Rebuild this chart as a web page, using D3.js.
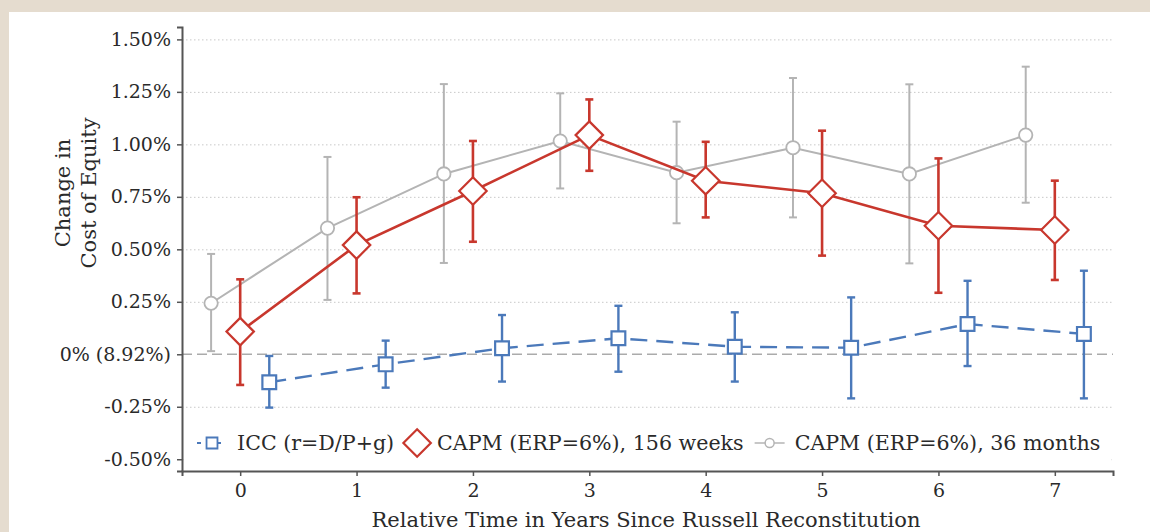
<!DOCTYPE html>
<html>
<head>
<meta charset="utf-8">
<script src="https://cdn.jsdelivr.net/npm/d3@7"></script>
<style>
    body { margin: 0; background: #e5dccf; }
    #wrapper { position: absolute; left: 9px; top: 12px; width: 1141px; height: 520px; background: #fff; }
    text { font-family: "DejaVu Serif", "Liberation Serif", serif; fill: #2a2a2a; }
    .grid line { stroke: #c8c8c8; stroke-dasharray: 1.5, 2.5; }
</style>
</head>
<body>
<div id="wrapper"></div>
<script>
// data (values in percent)
const years = [0, 1, 2, 3, 4, 5, 6, 7];
const yTicks = [-0.5, -0.25, 0, 0.25, 0.5, 0.75, 1, 1.25, 1.5];
const yTickLabels = ['-0.50%', '-0.25%', '0% (8.92%)', '0.25%', '0.50%', '0.75%', '1.00%', '1.25%', '1.50%'];

const icc = [-0.133, -0.048, 0.029, 0.076, 0.036, 0.031, 0.144, 0.097];
const iccLo = [-0.254, -0.159, -0.130, -0.083, -0.130, -0.210, -0.056, -0.210];
const iccHi = [-0.008, 0.065, 0.187, 0.231, 0.200, 0.271, 0.350, 0.398];

const capmWeeks = [0.108, 0.520, 0.778, 1.044, 0.827, 0.767, 0.612, 0.592];
const capmWeeksLo = [-0.146, 0.290, 0.536, 0.874, 0.652, 0.470, 0.293, 0.354];
const capmWeeksHi = [0.357, 0.748, 1.016, 1.214, 1.012, 1.065, 0.933, 0.827];

const capmMonths = [0.243, 0.601, 0.859, 1.016, 0.865, 0.984, 0.859, 1.044];
const capmMonthsLo = [0.015, 0.259, 0.435, 0.790, 0.624, 0.652, 0.433, 0.722];
const capmMonthsHi = [0.478, 0.940, 1.287, 1.243, 1.108, 1.316, 1.286, 1.370];

const legendLabels = ['ICC (r=D/P+g)', 'CAPM (ERP=6%), 156 weeks', 'CAPM (ERP=6%), 36 months'];

// series: offset along x, colours, marker
const series = [
    { name: 'months', offset: -0.25, vals: capmMonths, lo: capmMonthsLo, hi: capmMonthsHi, color: '#b4b4b4', width: 2, dash: null, marker: 'circle' },
    { name: 'weeks', offset: 0, vals: capmWeeks, lo: capmWeeksLo, hi: capmWeeksHi, color: '#c8372d', width: 2.6, dash: null, marker: 'diamond' },
    { name: 'icc', offset: 0.25, vals: icc, lo: iccLo, hi: iccHi, color: '#4b79ba', width: 2.4, dash: '17,9', marker: 'square' }
];

function drawChart() {
    //set dimension and properties (svg is offset by the white panel)
    let dimensions = {
        width: 1141,
        height: 520,
        ox: 9,
        oy: 12
    };
    const px = v => v - dimensions.ox;
    const py = v => v - dimensions.oy;

    const wrapper = d3.select('#wrapper');
    let svg = wrapper.append('svg')
        .attr('width', dimensions.width)
        .attr('height', dimensions.height);

    //scales
    let xScale = d3.scaleLinear()
        .domain([-0.5, 7.5])
        .range([px(182), px(1113)]);

    let yScale = d3.scaleLinear()
        .domain([-0.556, 1.559])
        .range([py(471), py(27)]);

    //grid
    let gridGen = d3.axisLeft(yScale)
        .tickValues(yTicks.filter(d => d !== 0))
        .tickSize(-(xScale.range()[1] - xScale.range()[0]))
        .tickFormat('');
    let grid = svg.append('g')
        .attr('class', 'grid')
        .attr('transform', `translate(${xScale.range()[0]},0)`)
        .call(gridGen);
    grid.select('.domain').remove();

    //zero reference line
    svg.append('line')
        .attr('x1', xScale.range()[0])
        .attr('x2', xScale.range()[1])
        .attr('y1', yScale(0))
        .attr('y2', yScale(0))
        .attr('stroke', '#ababab')
        .attr('stroke-width', 1.6)
        .attr('stroke-dasharray', '10,5');

    //series: error bars, lines, markers
    const symbolFor = {
        circle: d3.symbol().type(d3.symbolCircle).size(140),
        diamond: d3.symbol().type(d3.symbolDiamond2).size(480),
        square: d3.symbol().type(d3.symbolSquare).size(190)
    };

    series.forEach(s => {
        let g = svg.append('g');
        let pts = years.map((yr, i) => ({ x: yr + s.offset, v: s.vals[i], lo: s.lo[i], hi: s.hi[i] }));

        g.selectAll('.bar').data(pts).join('line')
            .attr('x1', d => xScale(d.x)).attr('x2', d => xScale(d.x))
            .attr('y1', d => yScale(d.lo)).attr('y2', d => yScale(d.hi))
            .attr('stroke', s.color).attr('stroke-width', s.width);

        ['lo', 'hi'].forEach(k => {
            g.selectAll('.cap' + k).data(pts).join('line')
                .attr('x1', d => xScale(d.x) - 4).attr('x2', d => xScale(d.x) + 4)
                .attr('y1', d => yScale(d[k])).attr('y2', d => yScale(d[k]))
                .attr('stroke', s.color).attr('stroke-width', s.width);
        });

        let lineGen = d3.line()
            .x(d => xScale(d.x))
            .y(d => yScale(d.v));
        g.append('path')
            .attr('d', lineGen(pts))
            .attr('fill', 'none')
            .attr('stroke', s.color)
            .attr('stroke-width', s.width)
            .attr('stroke-dasharray', s.dash);

        g.selectAll('.mk').data(pts).join('path')
            .attr('d', symbolFor[s.marker])
            .attr('transform', d => `translate(${xScale(d.x)},${yScale(d.v)})`)
            .attr('fill', '#fff')
            .attr('stroke', s.color)
            .attr('stroke-width', s.marker === 'circle' ? 1.8 : 2.2);
    });

    //axes
    let yAxisGen = d3.axisLeft(yScale)
        .tickValues(yTicks)
        .tickSize(5)
        .tickPadding(6)
        .tickFormat((d, i) => yTickLabels[i]);
    let yAxis = svg.append('g')
        .attr('transform', `translate(${xScale.range()[0]},0)`)
        .call(yAxisGen);
    yAxis.selectAll('text').style('font-size', '19px');

    let xAxisGen = d3.axisBottom(xScale)
        .tickValues(years)
        .tickSize(5)
        .tickPadding(8)
        .tickFormat(d3.format('d'));
    let xAxis = svg.append('g')
        .attr('transform', `translate(0,${yScale.range()[0]})`)
        .call(xAxisGen);
    xAxis.selectAll('text').style('font-size', '19px');

    [yAxis, xAxis].forEach(a => {
        a.select('.domain').attr('stroke', '#555').attr('stroke-width', 2);
        a.selectAll('.tick line').attr('stroke', '#555').attr('stroke-width', 1.5);
    });

    //legend
    let legend = svg.append('g');
    legend.append('rect')
        .attr('x', px(186)).attr('y', py(418))
        .attr('width', px(1111) - px(186)).attr('height', 48)
        .attr('fill', '#fff');

    let ly = py(443);
    let lx = px(197);
    series.slice().reverse().forEach((s, i) => {
        let item = legend.append('g');
        if (s.marker === 'square') {
            item.append('line').attr('x1', lx).attr('x2', lx + 30).attr('y1', ly).attr('y2', ly)
                .attr('stroke', s.color).attr('stroke-width', 2).attr('stroke-dasharray', '4,16,4,10');
            item.append('path').attr('d', d3.symbol().type(d3.symbolSquare).size(120))
                .attr('transform', `translate(${lx + 15},${ly})`)
                .attr('fill', '#fff').attr('stroke', s.color).attr('stroke-width', 1.8);
            lx += 40;
        } else if (s.marker === 'diamond') {
            item.append('path').attr('d', symbolFor.diamond)
                .attr('transform', `translate(${lx + 12},${ly})`)
                .attr('fill', '#fff').attr('stroke', s.color).attr('stroke-width', 2.2);
            lx += 32;
        } else {
            item.append('line').attr('x1', lx).attr('x2', lx + 30).attr('y1', ly).attr('y2', ly)
                .attr('stroke', s.color).attr('stroke-width', 1.5);
            item.append('circle').attr('cx', lx + 15).attr('cy', ly).attr('r', 4.5)
                .attr('fill', '#fff').attr('stroke', s.color).attr('stroke-width', 1.5);
            lx += 40;
        }
        let t = item.append('text')
            .attr('x', lx).attr('y', ly)
            .attr('dy', '0.35em')
            .style('font-size', '20.6px')
            .text(legendLabels[i]);
        lx += t.node().getComputedTextLength() + 11;
    });

    //axis titles
    svg.append('text')
        .attr('x', px(646)).attr('y', py(520))
        .attr('dy', '0.35em')
        .attr('text-anchor', 'middle')
        .style('font-size', '21px')
        .text('Relative Time in Years Since Russell Reconstitution');

    let yt = svg.append('text')
        .attr('transform', `translate(${px(63)},${py(193)}) rotate(-90)`)
        .attr('text-anchor', 'middle')
        .style('font-size', '21px');
    yt.append('tspan').attr('x', 0).attr('dy', '0.35em').text('Change in');
    yt.append('tspan').attr('x', 0).attr('dy', '1.2em').text('Cost of Equity');
}

drawChart();
</script>
</body>
</html>
